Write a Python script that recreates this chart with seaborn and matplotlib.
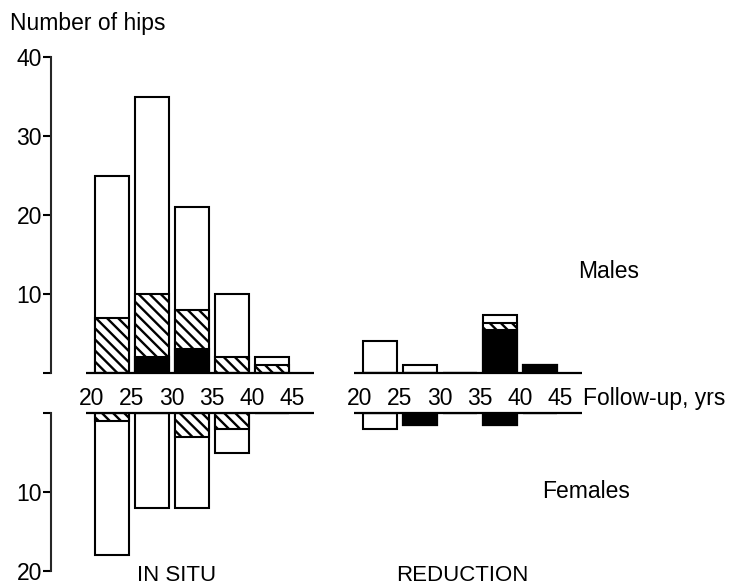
import numpy as np
import pandas as pd
import matplotlib
matplotlib.use('Agg')
import matplotlib.pyplot as plt
import seaborn as sns

# follow-up intervals (yrs) and their edges used as tick labels
intervals = ['20-25', '25-30', '30-35', '35-40', '40-45']
edges = [20, 25, 30, 35, 40, 45]
groups = ['IN SITU', 'REDUCTION']

# segments of every bar: solid (black), hatched, open (white)
male_insitu_solid = [0, 2, 3, 0, 0]
male_insitu_hatched = [7, 8, 5, 2, 1]
male_insitu_open = [18, 25, 13, 8, 1]
male_reduction_solid = [0, 0, 0, 5.4, 1]
male_reduction_hatched = [0, 0, 0, 0.9, 0]
male_reduction_open = [4, 1, 0, 1.0, 0]

female_insitu_solid = [0, 0, 0, 0, 0]
female_insitu_hatched = [1, 0, 3, 2, 0]
female_insitu_open = [17, 12, 9, 3, 0]
female_reduction_solid = [0, 1.5, 0, 1.5, 0]
female_reduction_hatched = [0, 0, 0, 0, 0]
female_reduction_open = [2, 0, 0, 0, 0]

group_offset = {'IN SITU': 0.0, 'REDUCTION': 6.7}


def make_frame(sex, group, solid, hatched, opened):
    df = pd.DataFrame({'interval': intervals, 'solid': solid,
                       'hatched': hatched, 'open': opened})
    df['sex'] = sex
    df['group'] = group
    df['pos'] = np.arange(len(intervals)) + group_offset[group]
    df['solid_top'] = df['solid']
    df['hatched_top'] = df['solid'] + df['hatched']
    df['total'] = df['solid'] + df['hatched'] + df['open']
    return df


data = pd.concat([
    make_frame('Males', 'IN SITU', male_insitu_solid, male_insitu_hatched, male_insitu_open),
    make_frame('Males', 'REDUCTION', male_reduction_solid, male_reduction_hatched, male_reduction_open),
    make_frame('Females', 'IN SITU', female_insitu_solid, female_insitu_hatched, female_insitu_open),
    make_frame('Females', 'REDUCTION', female_reduction_solid, female_reduction_hatched, female_reduction_open),
], ignore_index=True)

sns.set_theme(style='ticks')
plt.rcParams['font.family'] = ['Liberation Sans', 'DejaVu Sans']
plt.rcParams['hatch.linewidth'] = 1.7
plt.rcParams['text.color'] = 'black'
FS = 16.5

W, H = 733, 588
fig = plt.figure(figsize=(W / 100, H / 100), dpi=100)
ax_m = fig.add_axes([51 / W, (H - 373) / H, (W - 51) / W, 316 / H])
ax_f = fig.add_axes([51 / W, (H - 571) / H, (W - 51) / W, 158 / H])

layers = [('total', 'white', None), ('hatched_top', 'white', '\\\\\\'), ('solid_top', 'black', None)]

for ax, sex in [(ax_m, 'Males'), (ax_f, 'Females')]:
    sub = data[data['sex'] == sex]
    for col, colour, hatch in layers:
        sns.barplot(data=sub, x='pos', y=col, native_scale=True, orient='x',
                    width=0.85, color=colour, saturation=1, edgecolor='black',
                    linewidth=1.5, errorbar=None, hatch=hatch, ax=ax)
    # baseline under each group
    for g in groups:
        start = group_offset[g]
        ax.hlines(0, start - 0.65, start + len(intervals) + 0.05, color='black',
                  linewidth=1.6, clip_on=False)
    ax.set_xlim(-1.525, 15.525)
    ax.set_xlabel('')
    ax.set_ylabel('')
    for s in ['top', 'right', 'bottom']:
        ax.spines[s].set_visible(False)
    ax.spines['left'].set_linewidth(1.5)
    ax.tick_params(axis='y', direction='out', length=5.5, width=1.5,
                   pad=1, labelsize=FS, colors='black')

ax_m.set_ylim(0, 40)
ax_m.set_yticks([0, 10, 20, 30, 40])
ax_m.set_yticklabels(['', '10', '20', '30', '40'])

ax_f.set_ylim(20, 0)
ax_f.set_yticks([0, 10, 20])
ax_f.set_yticklabels(['', '10', '20'])

# follow-up edges as x tick labels between the two panels
tick_pos = []
tick_lab = []
for g in groups:
    for k, e in enumerate(edges):
        tick_pos.append(group_offset[g] + k - 0.5)
        tick_lab.append(str(e))
ax_m.set_xticks(tick_pos)
ax_m.set_xticklabels(tick_lab)
ax_m.tick_params(axis='x', length=0, pad=10, labelsize=FS, colors='black')
ax_f.set_xticks([])

fig.text(10 / W, 1 - 30 / H, 'Number of hips', fontsize=FS, va='baseline')
fig.text(578 / W, 1 - 278 / H, 'Males', fontsize=FS, va='baseline')
fig.text(542 / W, 1 - 498 / H, 'Females', fontsize=FS, va='baseline')
fig.text(583 / W, 1 - 405 / H, 'Follow-up, yrs', fontsize=FS, va='baseline')
fig.text(177 / W, 2 / H, 'IN SITU', fontsize=FS - 0.5, va='bottom', ha='center')
fig.text(462 / W, 2 / H, 'REDUCTION', fontsize=FS - 0.5, va='bottom', ha='center')

fig.savefig('out.png', dpi=100, facecolor='white')
